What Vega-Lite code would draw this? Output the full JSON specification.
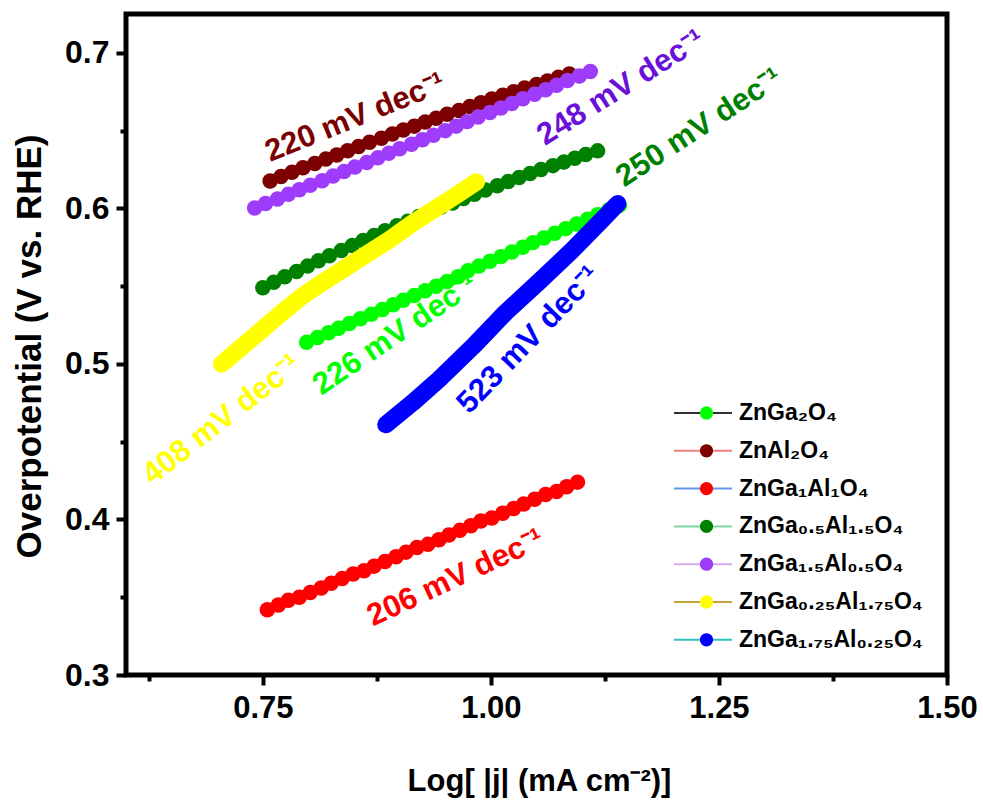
{
 "$schema": "https://vega.github.io/schema/vega-lite/v6.json",
 "width": 821, "height": 661,
 "autosize": {"type": "none"},
 "padding": {"left": 126, "top": 14, "right": 36, "bottom": 129},
 "background": "white",
 "config": {
  "view": {"stroke": "black", "strokeWidth": 5},
  "font": "Liberation Sans",
  "axis": {"grid": false, "domain": false, "tickColor": "black", "tickWidth": 4, "labelColor": "black", "titleColor": "black", "labelFont": "Liberation Sans", "titleFont": "Liberation Sans", "labelFontWeight": "bold", "titleFontWeight": "bold"}
 },
 "datasets": {
  "pts": [
   {"s":"ZnGa₂O₄","x":0.798,"y":0.514},{"s":"ZnGa₂O₄","x":0.810,"y":0.517},{"s":"ZnGa₂O₄","x":0.822,"y":0.520},{"s":"ZnGa₂O₄","x":0.833,"y":0.523},{"s":"ZnGa₂O₄","x":0.845,"y":0.526},{"s":"ZnGa₂O₄","x":0.857,"y":0.529},{"s":"ZnGa₂O₄","x":0.869,"y":0.532},{"s":"ZnGa₂O₄","x":0.881,"y":0.535},{"s":"ZnGa₂O₄","x":0.893,"y":0.538},{"s":"ZnGa₂O₄","x":0.904,"y":0.541},{"s":"ZnGa₂O₄","x":0.916,"y":0.544},{"s":"ZnGa₂O₄","x":0.928,"y":0.547},{"s":"ZnGa₂O₄","x":0.940,"y":0.550},{"s":"ZnGa₂O₄","x":0.952,"y":0.553},{"s":"ZnGa₂O₄","x":0.964,"y":0.556},{"s":"ZnGa₂O₄","x":0.975,"y":0.560},{"s":"ZnGa₂O₄","x":0.987,"y":0.563},{"s":"ZnGa₂O₄","x":0.999,"y":0.566},{"s":"ZnGa₂O₄","x":1.011,"y":0.569},{"s":"ZnGa₂O₄","x":1.023,"y":0.572},{"s":"ZnGa₂O₄","x":1.035,"y":0.575},{"s":"ZnGa₂O₄","x":1.046,"y":0.578},{"s":"ZnGa₂O₄","x":1.058,"y":0.581},{"s":"ZnGa₂O₄","x":1.070,"y":0.584},{"s":"ZnGa₂O₄","x":1.082,"y":0.587},{"s":"ZnGa₂O₄","x":1.094,"y":0.590},{"s":"ZnGa₂O₄","x":1.106,"y":0.593},{"s":"ZnGa₂O₄","x":1.117,"y":0.596},{"s":"ZnGa₂O₄","x":1.129,"y":0.599},{"s":"ZnGa₂O₄","x":1.141,"y":0.602},
   {"s":"ZnAl₂O₄","x":0.758,"y":0.6176},{"s":"ZnAl₂O₄","x":0.770,"y":0.6205},{"s":"ZnAl₂O₄","x":0.782,"y":0.6233},{"s":"ZnAl₂O₄","x":0.794,"y":0.6261},{"s":"ZnAl₂O₄","x":0.807,"y":0.6289},{"s":"ZnAl₂O₄","x":0.819,"y":0.6317},{"s":"ZnAl₂O₄","x":0.831,"y":0.6344},{"s":"ZnAl₂O₄","x":0.843,"y":0.6371},{"s":"ZnAl₂O₄","x":0.855,"y":0.6398},{"s":"ZnAl₂O₄","x":0.867,"y":0.6425},{"s":"ZnAl₂O₄","x":0.880,"y":0.6451},{"s":"ZnAl₂O₄","x":0.892,"y":0.6478},{"s":"ZnAl₂O₄","x":0.904,"y":0.6504},{"s":"ZnAl₂O₄","x":0.916,"y":0.6529},{"s":"ZnAl₂O₄","x":0.928,"y":0.6555},{"s":"ZnAl₂O₄","x":0.940,"y":0.6580},{"s":"ZnAl₂O₄","x":0.952,"y":0.6605},{"s":"ZnAl₂O₄","x":0.965,"y":0.6630},{"s":"ZnAl₂O₄","x":0.977,"y":0.6655},{"s":"ZnAl₂O₄","x":0.989,"y":0.6679},{"s":"ZnAl₂O₄","x":1.001,"y":0.6703},{"s":"ZnAl₂O₄","x":1.013,"y":0.6727},{"s":"ZnAl₂O₄","x":1.025,"y":0.6750},{"s":"ZnAl₂O₄","x":1.037,"y":0.6774},{"s":"ZnAl₂O₄","x":1.050,"y":0.6797},{"s":"ZnAl₂O₄","x":1.062,"y":0.6820},{"s":"ZnAl₂O₄","x":1.074,"y":0.6843},{"s":"ZnAl₂O₄","x":1.086,"y":0.6865},
   {"s":"ZnGa₁Al₁O₄","x":0.755,"y":0.342},{"s":"ZnGa₁Al₁O₄","x":0.767,"y":0.345},{"s":"ZnGa₁Al₁O₄","x":0.778,"y":0.348},{"s":"ZnGa₁Al₁O₄","x":0.790,"y":0.350},{"s":"ZnGa₁Al₁O₄","x":0.802,"y":0.353},{"s":"ZnGa₁Al₁O₄","x":0.814,"y":0.356},{"s":"ZnGa₁Al₁O₄","x":0.825,"y":0.359},{"s":"ZnGa₁Al₁O₄","x":0.837,"y":0.362},{"s":"ZnGa₁Al₁O₄","x":0.849,"y":0.365},{"s":"ZnGa₁Al₁O₄","x":0.861,"y":0.367},{"s":"ZnGa₁Al₁O₄","x":0.872,"y":0.370},{"s":"ZnGa₁Al₁O₄","x":0.884,"y":0.373},{"s":"ZnGa₁Al₁O₄","x":0.896,"y":0.376},{"s":"ZnGa₁Al₁O₄","x":0.907,"y":0.379},{"s":"ZnGa₁Al₁O₄","x":0.919,"y":0.382},{"s":"ZnGa₁Al₁O₄","x":0.931,"y":0.384},{"s":"ZnGa₁Al₁O₄","x":0.943,"y":0.387},{"s":"ZnGa₁Al₁O₄","x":0.954,"y":0.390},{"s":"ZnGa₁Al₁O₄","x":0.966,"y":0.393},{"s":"ZnGa₁Al₁O₄","x":0.978,"y":0.396},{"s":"ZnGa₁Al₁O₄","x":0.989,"y":0.399},{"s":"ZnGa₁Al₁O₄","x":1.001,"y":0.401},{"s":"ZnGa₁Al₁O₄","x":1.013,"y":0.404},{"s":"ZnGa₁Al₁O₄","x":1.025,"y":0.407},{"s":"ZnGa₁Al₁O₄","x":1.036,"y":0.410},{"s":"ZnGa₁Al₁O₄","x":1.048,"y":0.413},{"s":"ZnGa₁Al₁O₄","x":1.060,"y":0.416},{"s":"ZnGa₁Al₁O₄","x":1.072,"y":0.418},{"s":"ZnGa₁Al₁O₄","x":1.083,"y":0.421},{"s":"ZnGa₁Al₁O₄","x":1.095,"y":0.424},
   {"s":"ZnGa₀.₅Al₁.₅O₄","x":0.750,"y":0.5490},{"s":"ZnGa₀.₅Al₁.₅O₄","x":0.762,"y":0.5525},{"s":"ZnGa₀.₅Al₁.₅O₄","x":0.774,"y":0.5561},{"s":"ZnGa₀.₅Al₁.₅O₄","x":0.787,"y":0.5595},{"s":"ZnGa₀.₅Al₁.₅O₄","x":0.799,"y":0.5629},{"s":"ZnGa₀.₅Al₁.₅O₄","x":0.811,"y":0.5663},{"s":"ZnGa₀.₅Al₁.₅O₄","x":0.823,"y":0.5696},{"s":"ZnGa₀.₅Al₁.₅O₄","x":0.836,"y":0.5729},{"s":"ZnGa₀.₅Al₁.₅O₄","x":0.848,"y":0.5762},{"s":"ZnGa₀.₅Al₁.₅O₄","x":0.860,"y":0.5794},{"s":"ZnGa₀.₅Al₁.₅O₄","x":0.872,"y":0.5826},{"s":"ZnGa₀.₅Al₁.₅O₄","x":0.884,"y":0.5857},{"s":"ZnGa₀.₅Al₁.₅O₄","x":0.897,"y":0.5888},{"s":"ZnGa₀.₅Al₁.₅O₄","x":0.909,"y":0.5918},{"s":"ZnGa₀.₅Al₁.₅O₄","x":0.921,"y":0.5948},{"s":"ZnGa₀.₅Al₁.₅O₄","x":0.933,"y":0.5978},{"s":"ZnGa₀.₅Al₁.₅O₄","x":0.945,"y":0.6007},{"s":"ZnGa₀.₅Al₁.₅O₄","x":0.958,"y":0.6035},{"s":"ZnGa₀.₅Al₁.₅O₄","x":0.970,"y":0.6064},{"s":"ZnGa₀.₅Al₁.₅O₄","x":0.982,"y":0.6091},{"s":"ZnGa₀.₅Al₁.₅O₄","x":0.994,"y":0.6119},{"s":"ZnGa₀.₅Al₁.₅O₄","x":1.007,"y":0.6146},{"s":"ZnGa₀.₅Al₁.₅O₄","x":1.019,"y":0.6173},{"s":"ZnGa₀.₅Al₁.₅O₄","x":1.031,"y":0.6199},{"s":"ZnGa₀.₅Al₁.₅O₄","x":1.043,"y":0.6224},{"s":"ZnGa₀.₅Al₁.₅O₄","x":1.055,"y":0.6250},{"s":"ZnGa₀.₅Al₁.₅O₄","x":1.068,"y":0.6275},{"s":"ZnGa₀.₅Al₁.₅O₄","x":1.080,"y":0.6299},{"s":"ZnGa₀.₅Al₁.₅O₄","x":1.092,"y":0.6323},{"s":"ZnGa₀.₅Al₁.₅O₄","x":1.104,"y":0.6347},{"s":"ZnGa₀.₅Al₁.₅O₄","x":1.117,"y":0.6370},
   {"s":"ZnGa₁.₅Al₀.₅O₄","x":0.741,"y":0.6003},{"s":"ZnGa₁.₅Al₀.₅O₄","x":0.753,"y":0.6032},{"s":"ZnGa₁.₅Al₀.₅O₄","x":0.766,"y":0.6061},{"s":"ZnGa₁.₅Al₀.₅O₄","x":0.778,"y":0.6091},{"s":"ZnGa₁.₅Al₀.₅O₄","x":0.790,"y":0.6120},{"s":"ZnGa₁.₅Al₀.₅O₄","x":0.802,"y":0.6149},{"s":"ZnGa₁.₅Al₀.₅O₄","x":0.815,"y":0.6178},{"s":"ZnGa₁.₅Al₀.₅O₄","x":0.827,"y":0.6208},{"s":"ZnGa₁.₅Al₀.₅O₄","x":0.839,"y":0.6237},{"s":"ZnGa₁.₅Al₀.₅O₄","x":0.851,"y":0.6266},{"s":"ZnGa₁.₅Al₀.₅O₄","x":0.864,"y":0.6295},{"s":"ZnGa₁.₅Al₀.₅O₄","x":0.876,"y":0.6325},{"s":"ZnGa₁.₅Al₀.₅O₄","x":0.888,"y":0.6354},{"s":"ZnGa₁.₅Al₀.₅O₄","x":0.900,"y":0.6383},{"s":"ZnGa₁.₅Al₀.₅O₄","x":0.913,"y":0.6412},{"s":"ZnGa₁.₅Al₀.₅O₄","x":0.925,"y":0.6441},{"s":"ZnGa₁.₅Al₀.₅O₄","x":0.937,"y":0.6471},{"s":"ZnGa₁.₅Al₀.₅O₄","x":0.950,"y":0.6500},{"s":"ZnGa₁.₅Al₀.₅O₄","x":0.962,"y":0.6529},{"s":"ZnGa₁.₅Al₀.₅O₄","x":0.974,"y":0.6558},{"s":"ZnGa₁.₅Al₀.₅O₄","x":0.986,"y":0.6588},{"s":"ZnGa₁.₅Al₀.₅O₄","x":0.999,"y":0.6617},{"s":"ZnGa₁.₅Al₀.₅O₄","x":1.011,"y":0.6646},{"s":"ZnGa₁.₅Al₀.₅O₄","x":1.023,"y":0.6675},{"s":"ZnGa₁.₅Al₀.₅O₄","x":1.035,"y":0.6705},{"s":"ZnGa₁.₅Al₀.₅O₄","x":1.048,"y":0.6734},{"s":"ZnGa₁.₅Al₀.₅O₄","x":1.060,"y":0.6763},{"s":"ZnGa₁.₅Al₀.₅O₄","x":1.072,"y":0.6792},{"s":"ZnGa₁.₅Al₀.₅O₄","x":1.084,"y":0.6822},{"s":"ZnGa₁.₅Al₀.₅O₄","x":1.097,"y":0.6851},{"s":"ZnGa₁.₅Al₀.₅O₄","x":1.109,"y":0.6880},
   {"s":"ZnGa₀.₂₅Al₁.₇₅O₄","x":0.705,"y":0.500},{"s":"ZnGa₀.₂₅Al₁.₇₅O₄","x":0.727,"y":0.511},{"s":"ZnGa₀.₂₅Al₁.₇₅O₄","x":0.749,"y":0.522},{"s":"ZnGa₀.₂₅Al₁.₇₅O₄","x":0.771,"y":0.533},{"s":"ZnGa₀.₂₅Al₁.₇₅O₄","x":0.793,"y":0.5435},{"s":"ZnGa₀.₂₅Al₁.₇₅O₄","x":0.817,"y":0.553},{"s":"ZnGa₀.₂₅Al₁.₇₅O₄","x":0.841,"y":0.562},{"s":"ZnGa₀.₂₅Al₁.₇₅O₄","x":0.865,"y":0.571},{"s":"ZnGa₀.₂₅Al₁.₇₅O₄","x":0.889,"y":0.580},{"s":"ZnGa₀.₂₅Al₁.₇₅O₄","x":0.913,"y":0.590},{"s":"ZnGa₀.₂₅Al₁.₇₅O₄","x":0.937,"y":0.599},{"s":"ZnGa₀.₂₅Al₁.₇₅O₄","x":0.961,"y":0.608},{"s":"ZnGa₀.₂₅Al₁.₇₅O₄","x":0.984,"y":0.617},
   {"s":"ZnGa₁.₇₅Al₀.₂₅O₄","x":0.885,"y":0.461},{"s":"ZnGa₁.₇₅Al₀.₂₅O₄","x":0.914,"y":0.475},{"s":"ZnGa₁.₇₅Al₀.₂₅O₄","x":0.943,"y":0.490},{"s":"ZnGa₁.₇₅Al₀.₂₅O₄","x":0.980,"y":0.511},{"s":"ZnGa₁.₇₅Al₀.₂₅O₄","x":1.016,"y":0.533},{"s":"ZnGa₁.₇₅Al₀.₂₅O₄","x":1.053,"y":0.553},{"s":"ZnGa₁.₇₅Al₀.₂₅O₄","x":1.089,"y":0.573},{"s":"ZnGa₁.₇₅Al₀.₂₅O₄","x":1.114,"y":0.588},{"s":"ZnGa₁.₇₅Al₀.₂₅O₄","x":1.139,"y":0.603}
  ]
 },
 "resolve": {"axis": {"x": "independent", "y": "independent"}},
 "layer": [
  {
   "data": {"name": "pts"},
   "mark": {"type": "line", "strokeWidth": 1.5},
   "encoding": {
    "x": {"field": "x", "type": "quantitative", "scale": {"domain": [0.6, 1.5], "nice": false, "zero": false},
     "axis": {"orient": "bottom", "values": [0.75, 1, 1.25, 1.5], "format": ".2f", "tickSize": 10, "labelFontSize": 31, "labelPadding": 8, "labelFlush": false, "labelOverlap": false,
      "title": "Log[ |j| (mA cm⁻²)]", "titleFontSize": 31, "titleX": 413, "titleY": 115, "titleBaseline": "alphabetic", "titleAlign": "center"}},
    "y": {"field": "y", "type": "quantitative", "scale": {"domain": [0.3, 0.725], "nice": false, "zero": false},
     "axis": {"orient": "left", "values": [0.3, 0.4, 0.5, 0.6, 0.7], "format": ".1f", "tickSize": 10, "labelFontSize": 32, "labelPadding": 7, "labelFlush": false, "labelOverlap": false,
      "title": "Overpotential (V vs. RHE)", "titleFontSize": 35, "titleX": -86, "titleY": 332, "titleBaseline": "alphabetic", "titleAlign": "center", "titleAngle": 270}},
    "color": {"field": "s", "type": "nominal",
     "scale": {"domain": ["ZnGa₂O₄","ZnAl₂O₄","ZnGa₁Al₁O₄","ZnGa₀.₅Al₁.₅O₄","ZnGa₁.₅Al₀.₅O₄","ZnGa₀.₂₅Al₁.₇₅O₄","ZnGa₁.₇₅Al₀.₂₅O₄"],
      "range": ["#303030","#f08080","#6495ed","#7fd4a6","#d8a8f0","#c9a23c","#2ec4c4"]},
     "legend": {"orient": "none", "legendX": 547, "legendY": 383, "title": null, "padding": 0, "symbolType": "stroke", "symbolSize": 3364, "symbolStrokeWidth": 2, "clipHeight": 32, "rowPadding": 5.8, "labelExpr": "''", "labelFontSize": 20}}
   }
  },
  {
   "data": {"name": "pts"},
   "mark": {"type": "point", "shape": "circle", "filled": true, "size": 240, "opacity": 1, "strokeWidth": 0},
   "encoding": {
    "x": {"field": "x", "type": "quantitative", "scale": {"domain": [0.6, 1.5], "nice": false, "zero": false},
     "axis": {"orient": "bottom", "values": [0.625, 0.875, 1.125, 1.375], "labels": false, "tickSize": 6, "title": null}},
    "y": {"field": "y", "type": "quantitative", "scale": {"domain": [0.3, 0.725], "nice": false, "zero": false},
     "axis": {"orient": "left", "values": [0.35, 0.45, 0.55, 0.65], "labels": false, "tickSize": 6, "title": null}},
    "fill": {"field": "s", "type": "nominal",
     "sort": ["ZnGa₂O₄","ZnAl₂O₄","ZnGa₁Al₁O₄","ZnGa₀.₅Al₁.₅O₄","ZnGa₁.₅Al₀.₅O₄","ZnGa₀.₂₅Al₁.₇₅O₄","ZnGa₁.₇₅Al₀.₂₅O₄"],
     "scale": {"range": ["#00ff00","#7d0000","#ff0000","#008000","#9d3cfa","#ffff00","#0000ff"]},
     "legend": {"orient": "none", "legendX": 569, "legendY": 383, "title": null, "padding": 0, "symbolType": "circle", "symbolSize": 177, "symbolStrokeWidth": 0, "symbolOpacity": 1, "clipHeight": 32, "rowPadding": 5.8, "labelOffset": 21, "labelFontSize": 23, "labelLimit": 400, "labelFont": "Liberation Sans", "labelFontWeight": "bold", "labelColor": "black"}}
   }
  },
  {
   "data": {"name": "pts"},
   "transform": [{"filter": {"field": "s", "equal": "ZnGa₀.₂₅Al₁.₇₅O₄"}}],
   "mark": {"type": "line", "color": "#ffff00", "strokeWidth": 17.5, "strokeCap": "round", "strokeJoin": "round"},
   "encoding": {"x": {"field": "x", "type": "quantitative", "axis": null}, "y": {"field": "y", "type": "quantitative", "axis": null}}
  },
  {
   "data": {"name": "pts"},
   "transform": [{"filter": {"field": "s", "equal": "ZnGa₁.₇₅Al₀.₂₅O₄"}}],
   "mark": {"type": "line", "color": "#0000ff", "strokeWidth": 17.5, "strokeCap": "round", "strokeJoin": "round"},
   "encoding": {"x": {"field": "x", "type": "quantitative", "axis": null}, "y": {"field": "y", "type": "quantitative", "axis": null}}
  },
  {
   "data": {"values": [{"x": 0.8516, "y": 0.6582, "t": "220 mV dec⁻¹"}]},
   "mark": {"type": "text", "angle": 338, "fontSize": 31, "fontWeight": "bold", "color": "#7a0000", "align": "center", "baseline": "middle"},
   "encoding": {"x": {"field": "x", "type": "quantitative", "axis": null}, "y": {"field": "y", "type": "quantitative", "axis": null}, "text": {"field": "t"}}
  },
  {
   "data": {"values": [{"x": 1.1429, "y": 0.6775, "t": "248 mV dec⁻¹"}]},
   "mark": {"type": "text", "angle": 328, "fontSize": 31, "fontWeight": "bold", "color": "#6a10d8", "align": "center", "baseline": "middle"},
   "encoding": {"x": {"field": "x", "type": "quantitative", "axis": null}, "y": {"field": "y", "type": "quantitative", "axis": null}, "text": {"field": "t"}}
  },
  {
   "data": {"values": [{"x": 1.2286, "y": 0.6518, "t": "250 mV dec⁻¹"}]},
   "mark": {"type": "text", "angle": 327, "fontSize": 31, "fontWeight": "bold", "color": "#008000", "align": "center", "baseline": "middle"},
   "encoding": {"x": {"field": "x", "type": "quantitative", "axis": null}, "y": {"field": "y", "type": "quantitative", "axis": null}, "text": {"field": "t"}}
  },
  {
   "data": {"values": [{"x": 0.8956, "y": 0.5187, "t": "226 mV dec⁻¹"}]},
   "mark": {"type": "text", "angle": 326, "fontSize": 31, "fontWeight": "bold", "color": "#00ff00", "align": "center", "baseline": "middle"},
   "encoding": {"x": {"field": "x", "type": "quantitative", "axis": null}, "y": {"field": "y", "type": "quantitative", "axis": null}, "text": {"field": "t"}}
  },
  {
   "data": {"values": [{"x": 0.7055, "y": 0.464, "t": "408 mV dec⁻¹"}]},
   "mark": {"type": "text", "angle": 322, "fontSize": 31, "fontWeight": "bold", "color": "#ffff00", "align": "center", "baseline": "middle"},
   "encoding": {"x": {"field": "x", "type": "quantitative", "axis": null}, "y": {"field": "y", "type": "quantitative", "axis": null}, "text": {"field": "t"}}
  },
  {
   "data": {"values": [{"x": 1.0418, "y": 0.5154, "t": "523 mV dec⁻¹"}]},
   "mark": {"type": "text", "angle": 314, "fontSize": 31, "fontWeight": "bold", "color": "#0000ff", "align": "center", "baseline": "middle"},
   "encoding": {"x": {"field": "x", "type": "quantitative", "axis": null}, "y": {"field": "y", "type": "quantitative", "axis": null}, "text": {"field": "t"}}
  },
  {
   "data": {"values": [{"x": 0.9615, "y": 0.3624, "t": "206 mV dec⁻¹"}]},
   "mark": {"type": "text", "angle": 335, "fontSize": 31, "fontWeight": "bold", "color": "#ff0000", "align": "center", "baseline": "middle"},
   "encoding": {"x": {"field": "x", "type": "quantitative", "axis": null}, "y": {"field": "y", "type": "quantitative", "axis": null}, "text": {"field": "t"}}
  }
 ]
}
